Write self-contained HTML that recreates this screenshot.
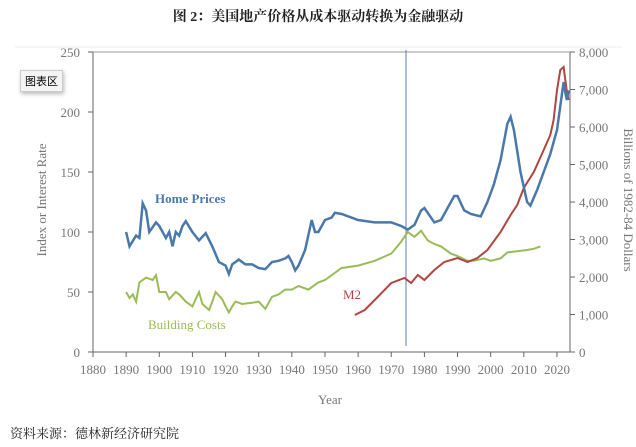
<!DOCTYPE html>
<html><head><meta charset="utf-8"><style>
body{margin:0;background:#fff;width:636px;height:447px;overflow:hidden;position:relative;font-family:"Liberation Serif","Noto Serif CJK SC",serif}
.t{position:absolute;left:0;width:636px;text-align:center;top:6px;font-size:14px;font-weight:bold;color:#222}
.src{position:absolute;left:10px;top:423px;font-size:13px;color:#222}
.btn{position:absolute;left:20px;top:70px;font-size:11px;border:1px solid #ccc;background:#f4f4f4;padding:2px 4px;box-shadow:1px 2px 4px #bbb;font-family:"Noto Sans CJK SC",sans-serif}
</style></head><body>
<div class="t">图 2：美国地产价格从成本驱动转换为金融驱动</div>
<svg width="636" height="447" style="position:absolute;left:0;top:0;z-index:0" font-family="Liberation Serif, serif" fill="#777">
<line x1="15" y1="47" x2="622" y2="47" stroke="#eee"/>
<g id="ax" stroke="#666" stroke-width="1"></g>
<g id="lb" font-size="13"></g>
<line x1="406" y1="50" x2="406" y2="346" stroke="#5b7fb0" stroke-width="1"/>
<path id="bc" fill="none" stroke="#9bbb59" stroke-width="2"/>
<path id="m2" fill="none" stroke="#b0463f" stroke-width="2"/>
<path id="hp" fill="none" stroke="#4a78ab" stroke-width="2.5"/>
<text x="155" y="203" font-size="13" font-weight="bold" fill="#4a78ab">Home Prices</text>
<text x="343" y="299" font-size="13" fill="#b0463f">M2</text>
<text x="148" y="329" font-size="13" fill="#9bbb59">Building Costs</text>
<text x="330" y="404" font-size="13" text-anchor="middle">Year</text>
<text transform="translate(46,200) rotate(-90)" font-size="13" text-anchor="middle">Index or Interest Rate</text>
<text transform="translate(624,200) rotate(90)" font-size="13" text-anchor="middle">Billions of 1982-84 Dollars</text>
</svg>
<div class="btn">图表区</div>
<div class="src">资料来源：德林新经济研究院</div>
<script>
var X=y=>93+(y-1880)*3.314, Y=v=>352-1.2*v;
var ax=document.getElementById('ax'),lb=document.getElementById('lb'),s='',l='';
s+='<line x1="93" y1="52" x2="93" y2="352"/><line x1="93" y1="352" x2="570" y2="352"/><line x1="570" y1="52" x2="570" y2="352"/><line x1="93" y1="52" x2="570" y2="52" stroke="#999"/>';
for(var v=0;v<=250;v+=50){var y=Y(v);s+='<line x1="88" y1="'+y+'" x2="93" y2="'+y+'"/>';l+='<text x="80" y="'+(y+5)+'" text-anchor="end">'+v+'</text>';}
for(var v=0;v<=8000;v+=1000){var y=352-0.0375*v;s+='<line x1="570" y1="'+y+'" x2="575" y2="'+y+'"/>';l+='<text x="579" y="'+(y+5)+'">'+(v?v.toLocaleString('en-US'):0)+'</text>';}
for(var yr=1880;yr<=2020;yr+=10){var x=X(yr);s+='<line x1="'+x+'" y1="352" x2="'+x+'" y2="357"/>';l+='<text x="'+x+'" y="374" text-anchor="middle">'+yr+'</text>';}
ax.innerHTML=s;lb.innerHTML=l;
function P(d,f){return d.map((p,i)=>(i?'L':'M')+X(p[0]).toFixed(1)+','+f(p[1]).toFixed(1)).join('');}
var hp=[[1890,100],[1891,88],[1893,97],[1894,95],[1895,124],[1896,118],[1897,100],[1899,108],[1900,105],[1902,95],[1903,100],[1904,88],[1905,100],[1906,97],[1907,105],[1908,109],[1910,100],[1912,93],[1914,99],[1916,88],[1918,75],[1920,72],[1921,65],[1922,73],[1924,77],[1926,73],[1928,73],[1930,70],[1932,69],[1934,75],[1936,76],[1938,78],[1939,80],[1940,75],[1941,68],[1942,72],[1944,85],[1946,110],[1947,100],[1948,100],[1950,110],[1952,112],[1953,116],[1955,115],[1958,112],[1960,110],[1965,108],[1970,108],[1973,105],[1975,102],[1977,106],[1979,118],[1980,120],[1982,112],[1983,108],[1985,110],[1988,125],[1989,130],[1990,130],[1992,118],[1994,115],[1997,113],[1999,125],[2001,140],[2003,160],[2005,190],[2006,196],[2007,185],[2009,150],[2011,125],[2012,122],[2014,135],[2016,150],[2018,165],[2020,185],[2021,205],[2022,225],[2022.6,215],[2023,210],[2023.5,218]];
var bc=[[1890,50],[1891,45],[1892,48],[1893,42],[1894,58],[1896,62],[1898,60],[1899,64],[1900,50],[1902,50],[1903,44],[1905,50],[1906,48],[1908,42],[1910,38],[1912,50],[1913,40],[1915,35],[1916,42],[1917,50],[1919,44],[1920,38],[1921,33],[1922,38],[1923,42],[1925,40],[1928,41],[1930,42],[1932,36],[1934,46],[1936,48],[1938,52],[1940,52],[1942,55],[1945,52],[1948,58],[1950,60],[1955,70],[1960,72],[1965,76],[1970,82],[1973,92],[1975,100],[1977,96],[1979,101],[1981,93],[1983,90],[1985,88],[1988,82],[1990,80],[1993,76],[1995,76],[1998,78],[2000,76],[2003,78],[2005,83],[2008,84],[2011,85],[2013,86],[2015,88]];
var m2=[[1959,315],[1962,310],[1965,300],[1970,283],[1974,278],[1976,283],[1978,275],[1980,280],[1983,270],[1986,262],[1990,258],[1993,262],[1996,258],[1999,250],[2003,232],[2006,215],[2008,205],[2010,188],[2013,172],[2016,150],[2018,135],[2019,120],[2020,90],[2021,70],[2022,67],[2023,92],[2023.5,100]];
document.getElementById('hp').setAttribute('d',P(hp,Y));
document.getElementById('bc').setAttribute('d',P(bc,Y));
document.getElementById('m2').setAttribute('d',P(m2,v=>v));
</script>
</body></html>
